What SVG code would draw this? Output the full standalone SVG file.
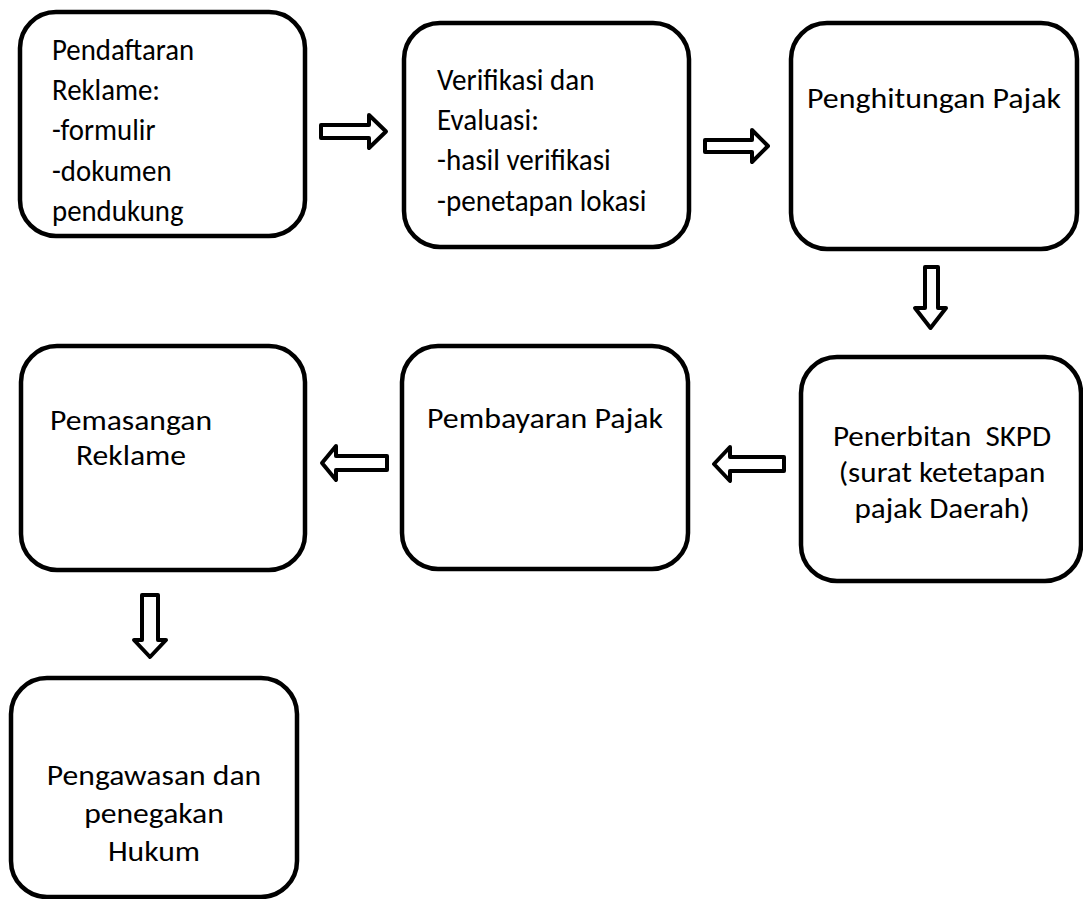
<svg xmlns="http://www.w3.org/2000/svg" width="1083" height="899" viewBox="0 0 1083 899">
<style>
.box{fill:#fff;stroke:#000;stroke-width:4.5}
.arr{fill:#fff;stroke:#000;stroke-width:4;stroke-linejoin:round}
text{font-family:Carlito,Calibri,Lato,"Open Sans",sans-serif;fill:#000}
.c{text-anchor:middle}
</style>
<rect width="1083" height="899" fill="#fff"/>
<g id="connectors">
<path class="arr" d="M321,125 H369 V115 L386,131.5 L369,148 V138 H321 Z"/>
<path class="arr" d="M705,140 H752 V130 L768,146 L752,162 V152 H705 Z"/>
<path class="arr" d="M925,267 H938 V308 H946 L930.5,328 L915,308 H925 Z"/>
<path class="arr" d="M784,457 H730 V447 L714,464 L730,481 V471 H784 Z"/>
<path class="arr" d="M387,456 H336 V446 L322,463 L336,480 V470 H387 Z"/>
<path class="arr" d="M142,595 H158 V640 H166 L150,657 L134,640 H142 Z"/>
</g>
<g id="n1">
<rect class="box" x="20" y="12" width="285" height="224" rx="36"/>
<g transform="translate(52,0) scale(0.93,1)" font-size="31">
<text x="0" y="60">Pendaftaran</text>
<text x="0" y="100">Reklame:</text>
<text x="0" y="140">-formulir</text>
<text x="0" y="181">-dokumen</text>
<text x="0" y="221">pendukung</text>
</g>
</g>
<g id="n2">
<rect class="box" x="404" y="23" width="285" height="224" rx="36"/>
<g transform="translate(437,0) scale(0.97,1)" font-size="30">
<text x="0" y="90">Verifikasi dan</text>
<text x="0" y="130">Evaluasi:</text>
<text x="0" y="170">-hasil verifikasi</text>
<text x="0" y="211">-penetapan lokasi</text>
</g>
</g>
<g id="n3">
<rect class="box" x="791" y="23" width="286" height="226" rx="36"/>
<g transform="translate(934,0) scale(1.14,1)" font-size="28">
<text class="c" x="0" y="108">Penghitungan Pajak</text>
</g>
</g>
<g id="n4">
<rect class="box" x="801" y="357" width="280" height="224" rx="36"/>
<g transform="translate(942,0) scale(1.12,1)" font-size="27.8">
<text class="c" x="0" y="446" xml:space="preserve">Penerbitan  SKPD</text>
<text class="c" x="0" y="482">(surat ketetapan</text>
<text class="c" x="0" y="518">pajak Daerah)</text>
</g>
</g>
<g id="n5">
<rect class="box" x="402" y="346" width="286" height="223" rx="36"/>
<g transform="translate(545,0) scale(1.12,1)" font-size="28.5">
<text class="c" x="0" y="428">Pembayaran Pajak</text>
</g>
</g>
<g id="n6">
<rect class="box" x="21" y="346" width="284" height="224" rx="36"/>
<g transform="translate(131,0) scale(1.13,1)" font-size="28">
<text class="c" x="0" y="430">Pemasangan</text>
<text class="c" x="0" y="465">Reklame</text>
</g>
</g>
<g id="n7">
<rect class="box" x="11" y="678" width="286" height="219" rx="36"/>
<g transform="translate(154,0) scale(1.13,1)" font-size="28">
<text class="c" x="0" y="785">Pengawasan dan</text>
<text class="c" x="0" y="823">penegakan</text>
<text class="c" x="0" y="861">Hukum</text>
</g>
</g>
</svg>
